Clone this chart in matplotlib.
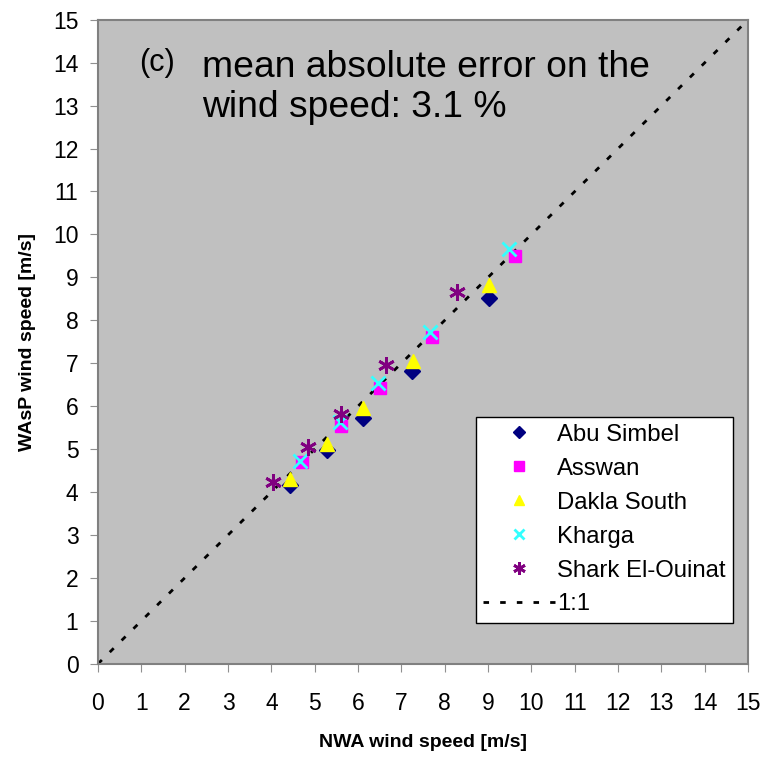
import matplotlib.pyplot as plt

plt.rcParams["font.family"] = ["Liberation Sans", "DejaVu Sans"]

abu_x = [4.43, 5.28, 6.11, 7.24, 9.02]
abu_y = [4.17, 4.99, 5.73, 6.83, 8.51]
asw_x = [4.70, 5.60, 6.50, 7.70, 9.62]
asw_y = [4.69, 5.55, 6.43, 7.60, 9.49]
dak_x = [4.43, 5.28, 6.11, 7.26, 9.02]
dak_y = [4.30, 5.13, 5.96, 7.06, 8.83]
kha_x = [4.66, 5.58, 6.46, 7.66, 9.48]
kha_y = [4.73, 5.64, 6.55, 7.72, 9.65]
shk_x = [4.03, 4.85, 5.60, 6.64, 8.28]
shk_y = [4.24, 5.06, 5.83, 6.95, 8.65]
line_x = [0, 15]

fig = plt.figure(figsize=(7.65, 7.57), dpi=100)
ax = fig.add_axes([0.128, 0.123, 0.85, 0.851])
ax.set_facecolor("#c0c0c0")

ax.plot(abu_x, abu_y, linestyle="none", marker="D", color="#000080", markersize=8, label="Abu Simbel")
ax.plot(asw_x, asw_y, linestyle="none", marker="s", color="#ff00ff", markersize=9, label="Asswan")
ax.plot(dak_x, dak_y, linestyle="none", marker="^", color="#ffff00", markersize=10, label="Dakla South")
ax.plot(kha_x, kha_y, linestyle="none", marker="x", color="#33ffff", markersize=10, mew=2, label="Kharga")
ax.plot(shk_x, shk_y, linestyle="none", marker=(6, 2, 0), color="#800080", markersize=12, mew=2,
        label="Shark El-Ouinat")
ax.plot(line_x, line_x, color="k", linestyle=(0, (2, 4)), linewidth=2, label="1:1", zorder=1)

ax.set_xlim(0, 15)
ax.set_ylim(0, 15)
ax.set_xticks(range(16))
ax.set_yticks(range(16))
ax.tick_params(direction="out", length=6, color="#909090", labelsize=16.5)
ax.tick_params(axis="x", pad=14)
ax.tick_params(axis="y", pad=8)
for spine in ax.spines.values():
    spine.set_color("#808080")
    spine.set_linewidth(1.5)

ax.set_xlabel("NWA wind speed [m/s]", fontsize=14, fontweight="bold", labelpad=14)
ax.set_ylabel("WAsP wind speed [m/s]", fontsize=14, fontweight="bold", labelpad=12)

ax.text(0.96, 13.98, "(c)", fontsize=22, va="center")
ax.text(2.4, 14.3, "mean absolute error on the\nwind speed: 3.1 %", fontsize=26.8, va="top",
        linespacing=1.21)

leg = ax.legend(loc="lower right", bbox_to_anchor=(0.976, 0.064), borderaxespad=0, fontsize=17.2,
                frameon=True, fancybox=False, edgecolor="k", facecolor="white", framealpha=1,
                markerscale=0.75, handlelength=3.0, handletextpad=0.1, labelspacing=0.5,
                borderpad=0.3)
leg.get_frame().set_linewidth(1.0)

plt.savefig("out.png")
